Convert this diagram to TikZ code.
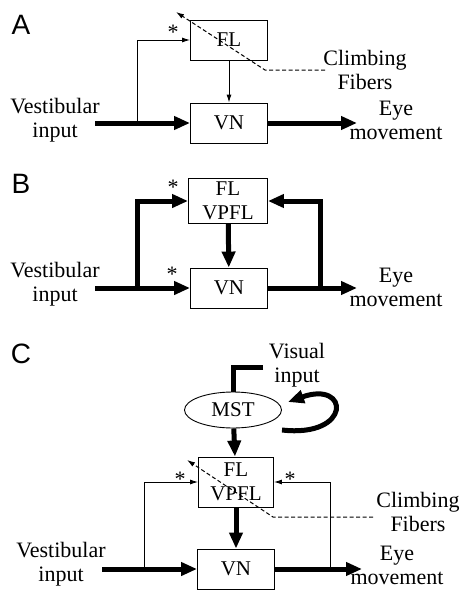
\documentclass[tikz,border=0pt]{standalone}
\usepackage{fontspec}
\setmainfont{Liberation Serif}
\newfontfamily\panelfont{Liberation Sans}
\usetikzlibrary{positioning,shapes.geometric,arrows.meta,calc}
\tikzset{
  box/.style={draw, line width=0.9pt, minimum width=77pt, minimum height=40pt,
    inner sep=0pt, align=center, font=\fontsize{21}{24}\selectfont},
  lbl/.style={align=center, inner sep=0pt, font=\fontsize{22}{24}\selectfont},
  panel/.style={inner sep=0pt, font=\panelfont\fontsize{28}{28}\selectfont},
  star/.style={inner sep=0pt, font=\fontsize{22}{22}\selectfont},
  thickarr/.style={line width=5pt, -{Triangle[length=16pt,width=13pt]}},
  thinarr/.style={line width=0.9pt, -{Latex[length=8pt,width=5pt]}},
  thickline/.style={line width=5pt},
  fiber/.style={dash pattern=on 4pt off 2.5pt, line width=1pt, -{Latex[length=8pt,width=5pt]}},
}
\begin{document}
\begin{tikzpicture}[x=1pt, y=-1pt]
\useasboundingbox (0,0) rectangle (469,592);

% panel A
\node[panel] (pA) at (21,25) {A};
\node[box] (flA) at (229,40) {FL};
\node[box] (vnA) at (229,123) {VN};
\node[lbl] (inA) at (55,120) {Vestibular\\input};
\node[lbl] (outA) at (396,120) {Eye\\movement};
\node[lbl] (cfA) at (365,70) {Climbing\\Fibers};
\coordinate (inA0) at (95,123);
\coordinate (brA) at (137,123);
\coordinate (outA1) at (357,123);
\draw[thickarr] (inA0) -- (vnA);
\draw[thinarr] (brA) |- (flA);
\draw[thinarr] (flA) -- (vnA);
\draw[thickarr] (vnA) -- (outA1);
\node[star] (sA) at (173,32) {*};
\coordinate (cfA1) at (325,70);
\coordinate (cfA2) at (265,70);
\coordinate (cfA3) at (176,12);
\draw[fiber] (cfA1) -- (cfA2) -- (cfA3);

% panel B
\node[panel] (pB) at (21,184) {B};
\node[box, minimum width=79pt, minimum height=45pt] (flB) at (228,201) {FL\\VPFL};
\node[box] (vnB) at (229,288) {VN};
\node[lbl] (inB) at (55,284) {Vestibular\\input};
\node[lbl] (outB) at (396,287) {Eye\\movement};
\coordinate (inB0) at (95,288);
\coordinate (brB) at (137,288);
\coordinate (fbB) at (320,288);
\coordinate (outB1) at (357,288);
\draw[thickarr] (inB0) -- (vnB);
\draw[thickarr] (brB) |- (flB);
\draw[thickarr] (flB) -- (vnB);
\draw[thickarr] (vnB) -- (outB1);
\draw[thickarr] (fbB) |- (flB);
\node[star] (sB1) at (173,187) {*};
\node[star] (sB2) at (172,274) {*};

% panel C
\node[panel] (pC) at (21,354) {C};
\node[lbl] (vis) at (297,365) {Visual\\input};
\node[draw, ellipse, line width=0.9pt, minimum width=97pt, minimum height=36pt,
  inner sep=0pt, font=\fontsize{21}{24}\selectfont] (mst) at (233,410) {MST};
\node[box, minimum width=75pt, minimum height=50pt] (flC) at (236,482) {FL\\VPFL};
\node[box] (vnC) at (236,569) {VN};
\node[lbl] (inC) at (61,564) {Vestibular\\input};
\node[lbl] (outC) at (397,565) {Eye\\movement};
\node[lbl] (cfC) at (418,512) {Climbing\\Fibers};
\coordinate (visC) at (263,367);
\coordinate (loopC0) at (282,430);
\coordinate (loopC1) at (288,402);
\draw[thickline] (visC) -| (mst);
\draw[thickarr] (loopC0) .. controls (352,438) and (350,380) .. (loopC1);
\draw[thickarr] (mst) -- (flC);
\draw[thickarr] (flC) -- (vnC);
\coordinate (inC0) at (102,569);
\coordinate (brC) at (144,569);
\coordinate (fbC) at (330,569);
\coordinate (outC1) at (362,569);
\draw[thickarr] (inC0) -- (vnC);
\draw[thinarr] (brC) |- (flC);
\draw[thickarr] (vnC) -- (outC1);
\draw[thinarr] (fbC) |- (flC);
\node[star] (sC1) at (180,479) {*};
\node[star] (sC2) at (290,479) {*};
\coordinate (cfC1) at (373,517);
\coordinate (cfC2) at (273,517);
\coordinate (cfC3) at (187,460);
\draw[fiber] (cfC1) -- (cfC2) -- (cfC3);
\end{tikzpicture}
\end{document}
